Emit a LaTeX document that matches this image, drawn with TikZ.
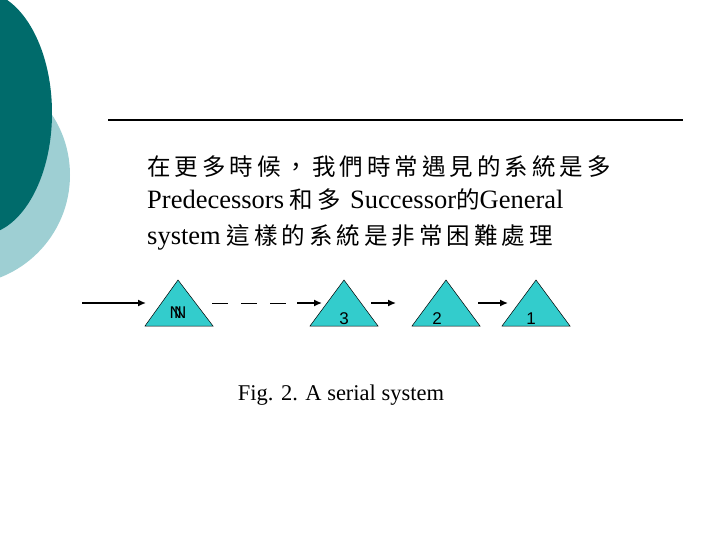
\documentclass[tikz,border=0pt]{standalone}
\usepackage{fontspec}
\setmainfont{Liberation Serif}
\newfontfamily\cjk[LetterSpace=17]{Noto Sans CJK TC}
\newfontfamily\lsans{Liberation Sans}
\usetikzlibrary{arrows.meta}
\definecolor{darkteal}{HTML}{006B6B}
\definecolor{lightteal}{HTML}{9ECFD3}
\definecolor{tri}{HTML}{33CCCC}
\tikzset{
  tribox/.style={fill=tri,draw=black,line width=0.5pt},
  lbl/.style={font=\lsans\fontsize{17}{17}\selectfont},
  arr/.style={-{Latex[length=8pt,width=7pt]},line width=1.4pt},
  txt/.style={anchor=west,font=\fontsize{23.5}{24}\selectfont,inner sep=0pt}
}
\newcommand\lat[1]{{\rmfamily\fontsize{26.5}{27}\selectfont #1}}
\begin{document}
\begin{tikzpicture}[x=1pt,y=-1pt]
\useasboundingbox (0,0) rectangle (720,540);
\fill[lightteal] (-40,175) circle (110);
\fill[darkteal] (-20,113) ellipse (72 and 122);
\draw[line width=1.3pt] (108,120) -- (683,120);
\node[txt] (t1) at (147,167) {\cjk 在更多時候，我們時常遇見的系統是多};
\node[txt] (t2) at (147,200) {\lat{Predecessors} \cjk 和多 \lat{Successor}\cjk 的\lat{General}};
\node[txt] (t3) at (147,237) {\lat{system} \cjk 這樣的系統是非常困難處理};
\draw[tribox] (145,326) -- (178,280) -- (213,326) -- cycle;
\draw[tribox] (310,326) -- (344,280) -- (378,326) -- cycle;
\draw[tribox] (412,326) -- (446,280) -- (480,326) -- cycle;
\draw[tribox] (502,326) -- (536,280) -- (570,326) -- cycle;
\node[lbl] (nn) at (178,313) {N\kern-8pt N};
\node[lbl] (n3) at (344,319) {3};
\node[lbl] (n2) at (437,319) {2};
\node[lbl] (n1) at (531,319) {1};
\coordinate (a0) at (82,303); \coordinate (a1) at (146,303);
\draw[arr] (a0) -- (a1);
\coordinate (d0) at (212,303); \coordinate (d1) at (288,303);
\draw[line width=1pt,dash pattern=on 16pt off 13pt] (d0) -- (d1);
\coordinate (b0) at (297,303); \coordinate (b1) at (322,303);
\draw[arr] (b0) -- (b1);
\coordinate (c0) at (371,303); \coordinate (c1) at (396,303);
\draw[arr] (c0) -- (c1);
\coordinate (e0) at (478,303); \coordinate (e1) at (508,303);
\draw[arr] (e0) -- (e1);
\node[font=\fontsize{22.5}{23}\selectfont] (cap) at (341,395) {Fig. 2. A serial system};
\end{tikzpicture}
\end{document}
